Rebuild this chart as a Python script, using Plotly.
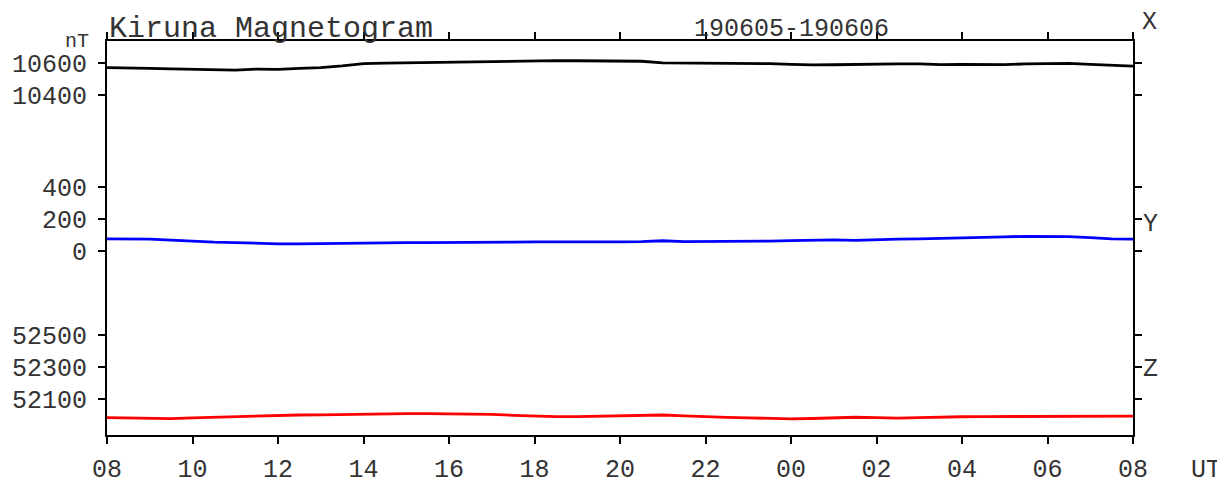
import pandas as pd
import plotly.graph_objects as go

# time axis: 2019-06-05 08 UT to 2019-06-06 08 UT, readings every 30 min
times = pd.date_range("2019-06-05 08:00", "2019-06-06 08:00", freq="30min")

# X component (nT)
x_comp = [10571, 10570, 10566, 10563, 10562, 10558, 10556, 10562, 10560, 10566,
          10571, 10582, 10596, 10599, 10601, 10606, 10608, 10610, 10612, 10614,
          10617, 10615, 10614, 10613, 10612, 10611, 10601, 10600, 10598, 10597,
          10600, 10596, 10592, 10588, 10589, 10592, 10593, 10594, 10595, 10590,
          10592, 10590, 10590, 10594, 10597, 10598, 10592, 10587, 10581]

# Y component (nT)
y_comp = [76, 76, 74, 68, 60, 55, 52, 48, 45, 45,
          47, 48, 50, 50, 52, 52, 54, 55, 56, 56,
          57, 56, 56, 57, 57, 58, 64, 58, 58, 59,
          60, 62, 65, 67, 70, 66, 71, 74, 76, 78,
          82, 84, 88, 92, 93, 90, 84, 76, 74]

# Z component (nT)
z_comp = [51984, 51982, 51978, 51977, 51982, 51986, 51990, 51996, 52000, 52000,
          52001, 52004, 52007, 52008, 52009, 52008, 52008, 52006, 52004, 51998,
          51992, 51990, 51990, 51992, 51994, 51998, 52000, 51994, 51988, 51985,
          51982, 51978, 51976, 51978, 51984, 51986, 51983, 51980, 51984, 51988,
          51989, 51990, 51990, 51989, 51990, 51991, 51992, 51993, 51993]

x_ticks = [10400, 10600]
y_ticks = [0, 200, 400]
z_ticks = [52100, 52300, 52500]
hour_labels = ["08", "10", "12", "14", "16", "18", "20", "22",
               "00", "02", "04", "06", "08"]

FONT = "Liberation Mono"
TXT = "#333333"

fig = go.Figure()
fig.add_trace(go.Scatter(x=times, y=x_comp, mode="lines",
                         line=dict(color="black", width=2.8), yaxis="y"))
fig.add_trace(go.Scatter(x=times, y=y_comp, mode="lines",
                         line=dict(color="#0000ff", width=2.8), yaxis="y2"))
fig.add_trace(go.Scatter(x=times, y=z_comp, mode="lines",
                         line=dict(color="#ff0000", width=2.8), yaxis="y3"))

# common scale: 0.16 px per nT over a 394 px tall plot
span = 2462.5
common_y = dict(showgrid=False, zeroline=False, showline=True, linecolor="black",
                linewidth=2, mirror="ticks", ticks="outside", ticklen=7,
                tickwidth=1.5, tickcolor="black", automargin=False,
                ticklabelstandoff=6,
                tickfont=dict(family=FONT, size=25, color=TXT))

tickvals_x = pd.date_range("2019-06-05 08:00", "2019-06-06 08:00", freq="2h")

fig.update_layout(
    width=1217, height=478,
    margin=dict(l=99, r=92, t=33, b=51),
    paper_bgcolor="white", plot_bgcolor="white",
    showlegend=False,
    xaxis=dict(range=[times[0], times[-1]], tickvals=tickvals_x, ticktext=hour_labels,
               showgrid=False, zeroline=False, showline=True, linecolor="black",
               linewidth=2, mirror="ticks", ticks="outside", ticklen=7,
               tickwidth=1.5, tickcolor="black", ticklabelstandoff=3,
               automargin=False,
               tickfont=dict(family=FONT, size=25, color=TXT)),
    yaxis=dict(range=[10737.5 - span, 10737.5], tickvals=x_ticks,
               ticktext=[str(v) for v in x_ticks], **common_y),
    yaxis2=dict(range=[1312.5 - span, 1312.5], tickvals=y_ticks,
                ticktext=[str(v) for v in y_ticks], overlaying="y",
                side="left", **common_y),
    yaxis3=dict(range=[54337.5 - span, 54337.5], tickvals=z_ticks,
                ticktext=[str(v) for v in z_ticks], overlaying="y",
                side="left", **common_y),
)

ann_font = dict(family=FONT, size=25, color=TXT)
fig.add_annotation(x=0, y=1, xref="paper", yref="paper", xanchor="left", yanchor="bottom",
                   text="Kiruna Magnetogram", showarrow=False, yshift=-7,
                   font=dict(family=FONT, size=30, color=TXT))
fig.add_annotation(x=0.667, y=1, xref="paper", yref="paper", xanchor="center",
                   yanchor="bottom", text="190605-190606", showarrow=False, yshift=-5,
                   font=ann_font)
fig.add_annotation(x=-0.017, y=1, xref="paper", yref="paper", xanchor="right",
                   yanchor="middle", text="nT", showarrow=False, yshift=0,
                   borderpad=0, font=dict(family=FONT, size=20, color=TXT))
fig.add_annotation(x=1.008, y=1, xref="paper", yref="paper", xanchor="left",
                   yanchor="middle", text="X", showarrow=False, yshift=19,
                   borderpad=0, font=ann_font)
fig.add_annotation(x=1.008, y=168, xref="paper", yref="y2", xanchor="left",
                   yanchor="middle", text="Y", showarrow=False, font=ann_font)
fig.add_annotation(x=1.008, y=52282, xref="paper", yref="y3",
                   xanchor="left", yanchor="middle", text="Z", showarrow=False,
                   font=ann_font)
fig.add_annotation(x=1.0867, y=0, xref="paper", yref="paper", xanchor="right",
                   yanchor="middle", text="UT", showarrow=False, yshift=-35,
                   borderpad=0, font=ann_font)

fig.write_html("out.html")
